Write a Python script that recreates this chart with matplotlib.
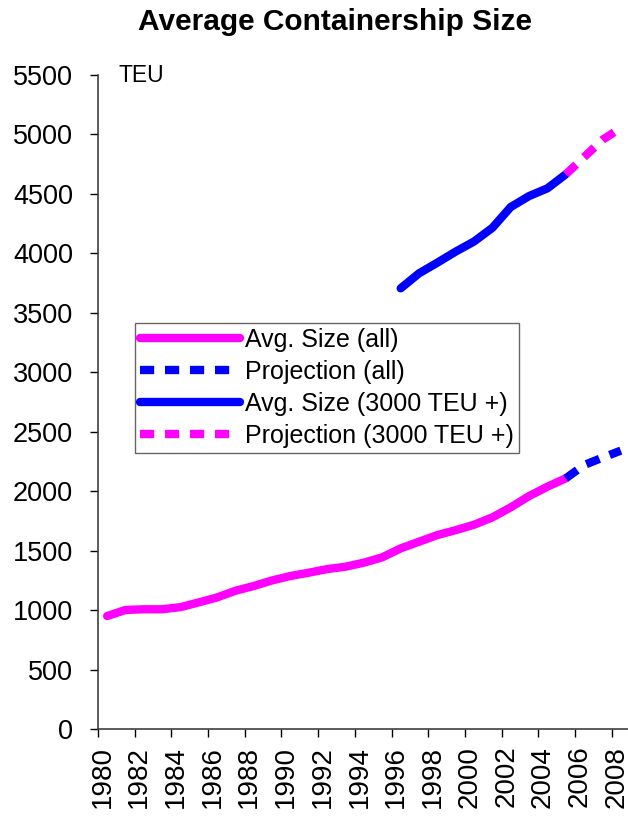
import matplotlib
matplotlib.use("Agg")
import matplotlib.pyplot as plt
import numpy as np

plt.rcParams['font.family'] = ['Liberation Sans', 'DejaVu Sans']

years_all = list(range(1980, 2006))
avg_all = [950, 1001, 1007, 1007, 1025, 1065, 1107, 1163, 1203, 1250,
           1287, 1315, 1345, 1365, 1399, 1444, 1519, 1575, 1631, 1672,
           1718, 1780, 1864, 1959, 2038, 2108]
years_proj = [2005, 2006, 2007, 2008]
proj_all = [2108, 2220, 2282, 2341]

years_big = list(range(1996, 2006))
avg_big = [3706, 3832, 3922, 4015, 4100, 4215, 4390, 4482, 4547, 4665]
proj_big = [4665, 4810, 4955, 5055]

ytick_vals = list(range(0, 5501, 500))
xtick_years = list(range(1980, 2009, 2))

MAG = '#FF00FF'
BLU = '#0000FF'

fig = plt.figure(figsize=(6.28, 8.19), dpi=100)
ax = fig.add_axes([98/628, 1-729/819, 532/628, 654/819])

lw = 6
ax.plot(years_all, avg_all, color=MAG, lw=lw, solid_capstyle='round', solid_joinstyle='round', label='Avg. Size (all)')
ax.plot(years_proj, proj_all, color=BLU, lw=lw, ls=(0, (1.7, 1.3)), dash_capstyle='butt', label='Projection (all)')
ax.plot(years_big, avg_big, color=BLU, lw=lw, solid_capstyle='round', solid_joinstyle='round', label='Avg. Size (3000 TEU +)')
ax.plot(years_proj, proj_big, color=MAG, lw=lw, ls=(0, (1.7, 1.3)), dash_capstyle='butt', label='Projection (3000 TEU +)')

ax.set_xlim(1979.5, 2008.5)
ax.set_ylim(0, 5500)
ax.set_yticks(ytick_vals)
# labels sit just right of the boundary tick marks, as in the reference
ax.set_xticks([y - 0.25 for y in xtick_years])
ax.set_xticklabels([str(y) for y in xtick_years], rotation=90)
ax.set_xticks([y - 0.5 for y in xtick_years], minor=True)
ax.tick_params(axis='x', which='major', length=0, pad=12, labelsize=20)
ax.tick_params(axis='x', which='minor', length=6, width=1, direction='out')
ax.tick_params(axis='y', which='major', length=6, width=1, direction='out', pad=12, labelsize=19.5)
for s in ['top', 'right']:
    ax.spines[s].set_visible(False)
for s in ['left', 'bottom']:
    ax.spines[s].set_color('#404040')
    ax.spines[s].set_linewidth(1.2)

fig.text(118/628, 1-76/819, 'TEU', fontsize=16.5, va='center', ha='left')
fig.text(335/628, 1-22/819, 'Average Containership Size', fontsize=21.5, fontweight='bold', ha='center', va='center')

leg = ax.legend(loc='upper left', bbox_to_anchor=(135/628, 1-323/819), bbox_transform=fig.transFigure,
                fontsize=18, frameon=True, fancybox=False, edgecolor='#404040', handlelength=4.0,
                handletextpad=0.2, labelspacing=0.32, borderpad=0.2, borderaxespad=0)
leg.get_frame().set_linewidth(1.0)

fig.savefig('out.png', dpi=100)
